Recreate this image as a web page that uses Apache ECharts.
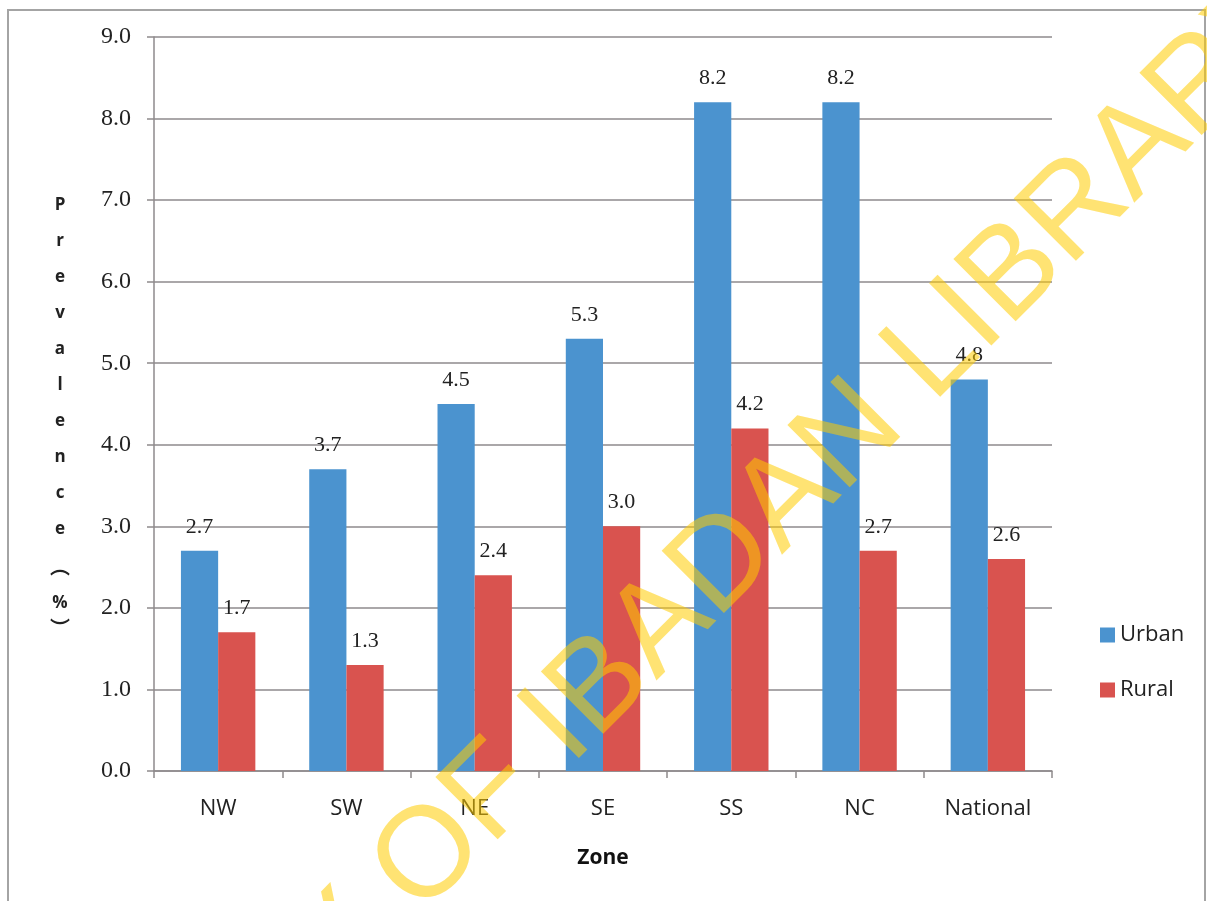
<!DOCTYPE html>
<html>
<head>
<meta charset="utf-8">
<script src="https://cdn.jsdelivr.net/npm/echarts@6/dist/echarts.min.js"></script>
<style>
  html, body { margin: 0; padding: 0; background: #fff; }
  #chart { width: 1207px; height: 901px; }
</style>
</head>
<body>
<div id="chart"></div>
<script>
// Prevalence (%) by zone, urban vs rural
const zones = ['NW', 'SW', 'NE', 'SE', 'SS', 'NC', 'National'];
const urban = [2.7, 3.7, 4.5, 5.3, 8.2, 8.2, 4.8];
const rural = [1.7, 1.3, 2.4, 3.0, 4.2, 2.7, 2.6];
const seriesNames = ['Urban', 'Rural'];
const yTitle = 'Prevalence';
const yUnit = ['\uFE35', '%', '\uFE36'];   // vertical-form "( % )"
const xTitle = 'Zone';
const watermark = 'UNIVERSITY OF IBADAN LIBRARY';

const chart = echarts.init(document.getElementById('chart'));

const gridColor = '#8e8a8c';
const serif = '"Liberation Serif", "Times New Roman", serif';
const sans = '"Open Sans", Lato, sans-serif';

// vertical, letter-stacked y-axis title
const titleX = 60;
const titleFont = 'bold 17px ' + sans;
const titleGraphics = yTitle.split('').map((ch, i) => ({
  type: 'text', x: titleX, y: 205 + i * 36, silent: true,
  style: { text: ch, fill: '#222', font: titleFont, textAlign: 'center', textVerticalAlign: 'middle' }
}));
const unitY = [566, 603, 628];
yUnit.forEach((ch, i) => {
  titleGraphics.push({
    type: 'text', x: titleX, y: unitY[i], silent: true,
    style: { text: ch, fill: '#222',
             font: i === 1 ? titleFont : 'bold 20px "Noto Sans CJK SC", sans-serif',
             textAlign: 'center', textVerticalAlign: 'middle' }
  });
});

const barLabel = {
  show: true, position: 'top', distance: 13,
  fontFamily: serif, fontSize: 22, color: '#222',
  formatter: p => p.value.toFixed(1)
};

chart.setOption({
  backgroundColor: '#ffffff',
  animation: false,
  grid: { left: 154, right: 155, top: 37, bottom: 130, containLabel: false },
  legend: {
    orient: 'vertical', left: 1095, top: 619,
    itemWidth: 15, itemHeight: 15, itemGap: 33,
    icon: 'rect',
    textStyle: { fontFamily: sans, fontSize: 22, color: '#222' },
    data: seriesNames
  },
  xAxis: {
    type: 'category', data: zones,
    name: xTitle, nameLocation: 'middle', nameGap: 77,
    nameTextStyle: { fontFamily: sans, fontSize: 21, fontWeight: 'bold', color: '#111' },
    axisLine: { lineStyle: { color: gridColor, width: 1.5 } },
    axisTick: { show: true, length: 7, lineStyle: { color: gridColor, width: 1.5 } },
    axisLabel: { margin: 27, fontFamily: sans, fontSize: 22, color: '#222' }
  },
  yAxis: {
    type: 'value', min: 0, max: 9, interval: 1,
    axisLine: { show: true, lineStyle: { color: gridColor, width: 1.5 } },
    axisTick: { show: true, length: 7, lineStyle: { color: gridColor, width: 1.5 } },
    axisLabel: { margin: 23, fontFamily: serif, fontSize: 24, color: '#222', formatter: v => v.toFixed(1) },
    splitLine: { lineStyle: { color: gridColor, width: 1.5 } }
  },
  series: [
    { name: seriesNames[0], type: 'bar', data: urban, barGap: '0%', barCategoryGap: '42%',
      itemStyle: { color: '#4b93cf' }, label: barLabel },
    { name: seriesNames[1], type: 'bar', data: rural,
      itemStyle: { color: '#d9534f' }, label: barLabel }
  ],
  graphic: [
    { type: 'rect', silent: true, z: -10,
      shape: { x: 8, y: 10, width: 1197, height: 900 },
      style: { fill: 'none', stroke: '#a4a4a4', lineWidth: 2 } },
    ...titleGraphics,
    { type: 'text', x: 560, y: 727, rotation: 45 * Math.PI / 180, silent: true, z: 100,
      style: { text: watermark, fill: 'rgba(255, 204, 0, 0.55)',
               font: '128px "Liberation Sans", Arial, sans-serif',
               textAlign: 'center', textVerticalAlign: 'middle' } }
  ]
});
</script>
</body>
</html>
